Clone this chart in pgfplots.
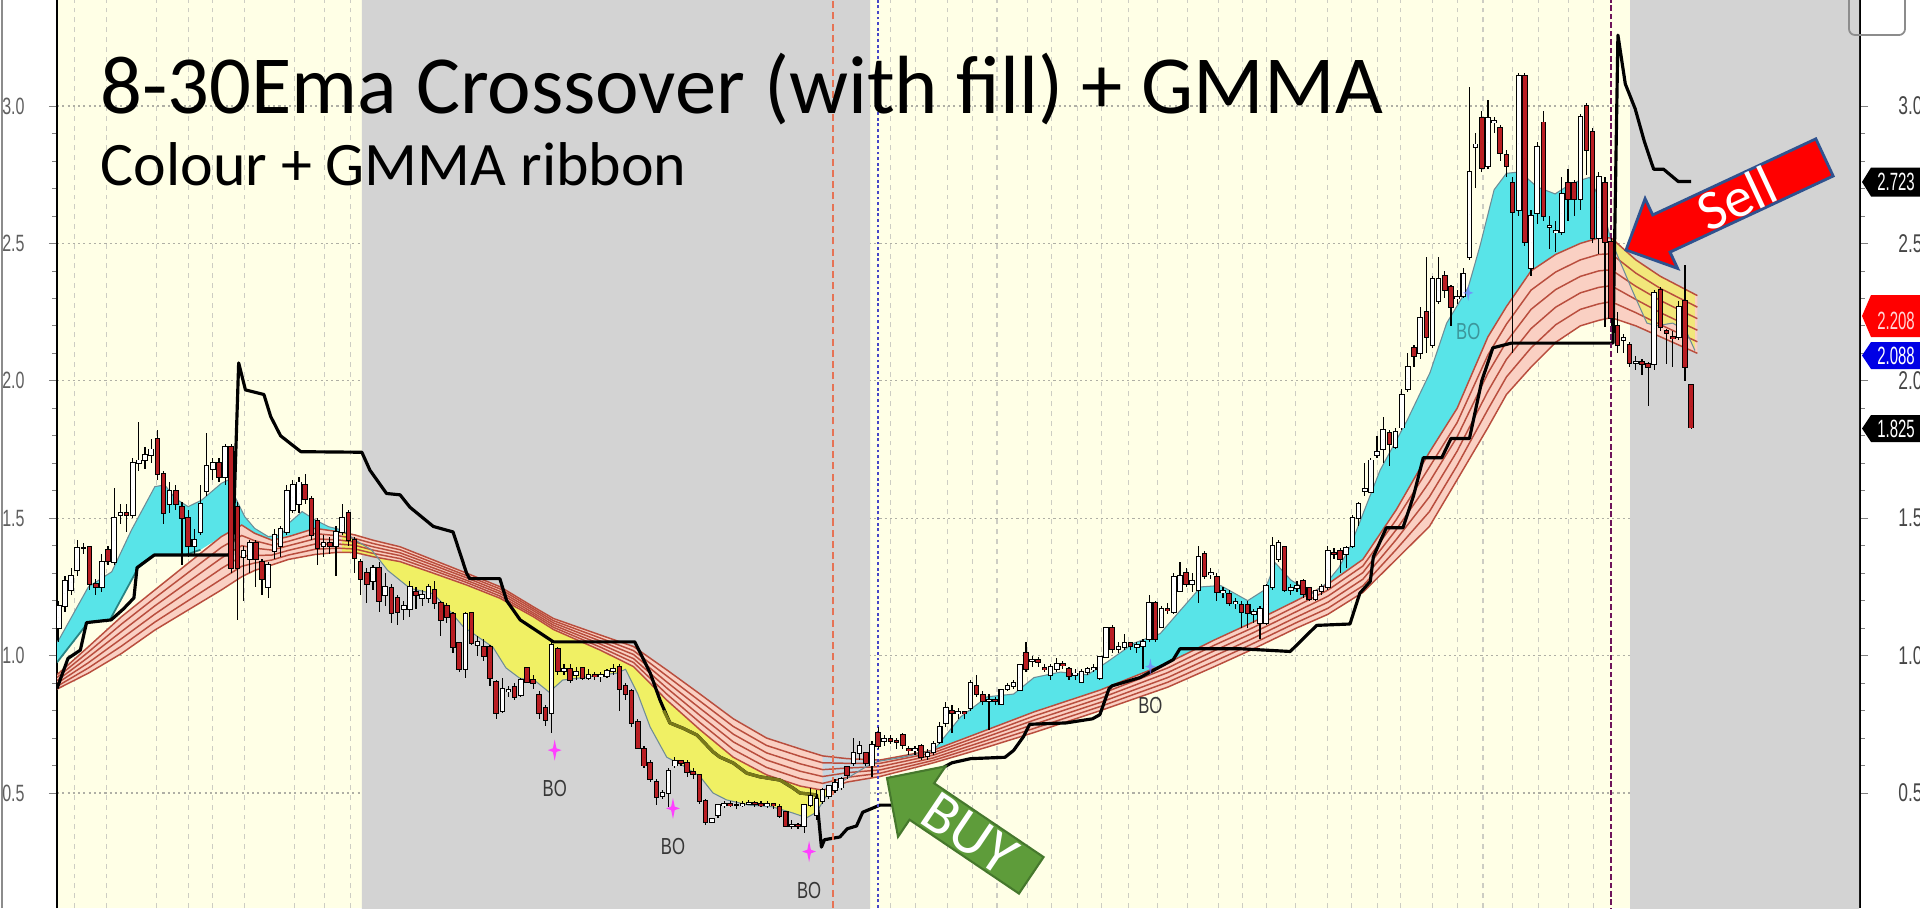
\documentclass[border=0pt]{standalone}
\usepackage{pgfplots}
\pgfplotsset{compat=1.18}
\usepackage{pgfplotstable}
\usepackage{fontspec}
\setmainfont{Carlito}
\newfontfamily\arialf{Liberation Sans}
\definecolor{cream}{RGB}{255,255,230}
\definecolor{bggray}{RGB}{211,211,211}
\definecolor{cyanf}{RGB}{88,228,232}
\definecolor{yelf}{RGB}{240,240,100}
\definecolor{ribline}{RGB}{185,78,62}
\definecolor{ribfill}{RGB}{250,208,195}
\definecolor{candred}{RGB}{185,30,35}
\definecolor{olivel}{RGB}{120,120,25}
\definecolor{magstar}{RGB}{255,64,255}
\definecolor{buygreen}{RGB}{94,156,58}
\definecolor{buyedge}{RGB}{70,120,45}
\definecolor{sellblue}{RGB}{47,82,143}
\definecolor{tickgray}{RGB}{95,95,95}
\definecolor{bogray}{RGB}{55,55,55}
\definecolor{tealline}{RGB}{40,130,130}
\definecolor{e8line}{RGB}{110,140,150}

\pgfdeclareplotmark{fourstar}{%
  \pgfpathmoveto{\pgfqpoint{0pt}{\pgfplotmarksize}}%
  \pgfpathlineto{\pgfqpoint{0.17\pgfplotmarksize}{0.17\pgfplotmarksize}}%
  \pgfpathlineto{\pgfqpoint{0.65\pgfplotmarksize}{0pt}}%
  \pgfpathlineto{\pgfqpoint{0.17\pgfplotmarksize}{-0.17\pgfplotmarksize}}%
  \pgfpathlineto{\pgfqpoint{0pt}{-\pgfplotmarksize}}%
  \pgfpathlineto{\pgfqpoint{-0.17\pgfplotmarksize}{-0.17\pgfplotmarksize}}%
  \pgfpathlineto{\pgfqpoint{-0.65\pgfplotmarksize}{0pt}}%
  \pgfpathlineto{\pgfqpoint{-0.17\pgfplotmarksize}{0.17\pgfplotmarksize}}%
  \pgfpathclose\pgfusepathqfill}

\pgfplotstableread{
i o h l c
0 1.10 1.20 1.05 1.18
1 1.18 1.29 1.16 1.27
2 1.24 1.32 1.22 1.29
3 1.31 1.42 1.29 1.39
4 1.39 1.41 1.37 1.39
5 1.395 1.40 1.24 1.26
6 1.26 1.28 1.22 1.25
7 1.25 1.37 1.23 1.34
8 1.385 1.40 1.33 1.345
9 1.34 1.61 1.33 1.50
10 1.51 1.55 1.48 1.52
11 1.52 1.55 1.45 1.51
12 1.51 1.72 1.50 1.70
13 1.70 1.85 1.67 1.71
14 1.71 1.76 1.68 1.73
15 1.73 1.79 1.70 1.75
16 1.79 1.82 1.64 1.66
17 1.66 1.67 1.48 1.52
18 1.55 1.63 1.52 1.60
19 1.60 1.62 1.53 1.55
20 1.54 1.56 1.33 1.50
21 1.50 1.53 1.36 1.40
22 1.40 1.46 1.37 1.42
23 1.45 1.62 1.44 1.55
24 1.60 1.81 1.58 1.69
25 1.68 1.72 1.64 1.70
26 1.70 1.72 1.63 1.65
27 1.65 1.77 1.62 1.76
28 1.76 1.77 1.30 1.32
29 1.54 1.56 1.13 1.32
30 1.36 1.40 1.20 1.38
31 1.35 1.42 1.30 1.41
32 1.41 1.42 1.25 1.35
33 1.34 1.35 1.22 1.28
34 1.25 1.34 1.21 1.33
35 1.38 1.46 1.35 1.44
36 1.40 1.47 1.36 1.46
37 1.45 1.62 1.44 1.60
38 1.53 1.64 1.52 1.62
39 1.55 1.65 1.52 1.63
40 1.62 1.66 1.55 1.57
41 1.57 1.58 1.42 1.44
42 1.49 1.50 1.33 1.39
43 1.40 1.44 1.36 1.41
44 1.41 1.43 1.37 1.40
45 1.40 1.47 1.29 1.45
46 1.45 1.55 1.44 1.50
47 1.52 1.53 1.40 1.42
48 1.42 1.43 1.30 1.355
49 1.34 1.35 1.22 1.28
50 1.30 1.32 1.19 1.26
51 1.27 1.33 1.24 1.32
52 1.32 1.34 1.16 1.20
53 1.22 1.30 1.18 1.25
54 1.245 1.26 1.12 1.155
55 1.21 1.22 1.11 1.16
56 1.17 1.20 1.13 1.18
57 1.17 1.27 1.14 1.25
58 1.23 1.25 1.17 1.22
59 1.21 1.24 1.18 1.22
60 1.21 1.26 1.19 1.25
61 1.24 1.27 1.17 1.19
62 1.19 1.20 1.07 1.13
63 1.18 1.19 1.12 1.14
64 1.15 1.16 1.01 1.03
65 1.045 1.05 0.94 0.95
66 0.95 1.16 0.92 1.15
67 1.155 1.16 1.04 1.045
68 1.04 1.07 1.00 1.05
69 1.03 1.06 0.98 1.00
70 1.03 1.04 0.89 0.92
71 0.905 0.91 0.77 0.79
72 0.80 0.92 0.79 0.88
73 0.87 0.89 0.85 0.875
74 0.885 0.90 0.84 0.85
75 0.855 0.92 0.85 0.91
76 0.955 0.96 0.90 0.905
77 0.91 0.93 0.88 0.90
78 0.855 0.87 0.77 0.79
79 0.81 0.82 0.745 0.765
80 0.79 1.05 0.72 1.04
81 1.025 1.03 0.93 0.945
82 0.945 0.97 0.93 0.95
83 0.95 0.97 0.90 0.91
84 0.93 0.96 0.91 0.94
85 0.955 0.96 0.91 0.92
86 0.92 0.95 0.91 0.93
87 0.93 0.94 0.91 0.925
88 0.925 0.94 0.905 0.93
89 0.925 0.95 0.92 0.945
90 0.945 0.97 0.93 0.95
91 0.96 0.97 0.80 0.88
92 0.89 0.90 0.84 0.86
93 0.87 0.88 0.74 0.755
94 0.76 0.77 0.66 0.665
95 0.66 0.67 0.59 0.60
96 0.61 0.62 0.54 0.55
97 0.54 0.55 0.455 0.485
98 0.49 0.51 0.48 0.50
99 0.50 0.59 0.45 0.58
100 0.60 0.63 0.59 0.615
101 0.615 0.62 0.60 0.61
102 0.61 0.62 0.56 0.575
103 0.575 0.59 0.55 0.57
104 0.565 0.57 0.46 0.47
105 0.47 0.48 0.385 0.395
106 0.395 0.41 0.39 0.405
107 0.42 0.46 0.41 0.455
108 0.455 0.47 0.445 0.46
109 0.46 0.47 0.45 0.455
110 0.455 0.47 0.44 0.455
111 0.455 0.47 0.45 0.46
112 0.46 0.475 0.455 0.465
113 0.465 0.47 0.45 0.46
114 0.46 0.47 0.45 0.455
115 0.455 0.47 0.445 0.46
116 0.46 0.465 0.44 0.455
117 0.45 0.46 0.41 0.415
118 0.43 0.435 0.375 0.38
119 0.38 0.40 0.37 0.385
120 0.385 0.39 0.37 0.38
121 0.38 0.46 0.355 0.455
122 0.455 0.52 0.45 0.49
123 0.42 0.51 0.40 0.48
124 0.47 0.52 0.46 0.51
125 0.49 0.53 0.48 0.525
126 0.51 0.55 0.50 0.535
127 0.52 0.56 0.51 0.55
128 0.595 0.60 0.55 0.565
129 0.61 0.70 0.60 0.645
130 0.645 0.69 0.62 0.67
131 0.645 0.65 0.60 0.61
132 0.60 0.69 0.56 0.675
133 0.72 0.74 0.66 0.67
134 0.69 0.71 0.67 0.695
135 0.695 0.71 0.68 0.69
136 0.69 0.70 0.66 0.685
137 0.71 0.72 0.66 0.675
138 0.66 0.67 0.64 0.655
139 0.655 0.67 0.64 0.66
140 0.67 0.68 0.62 0.63
141 0.635 0.66 0.62 0.645
142 0.65 0.69 0.64 0.68
143 0.685 0.76 0.68 0.74
144 0.755 0.83 0.74 0.81
145 0.80 0.82 0.72 0.79
146 0.79 0.81 0.77 0.795
147 0.795 0.80 0.77 0.79
148 0.81 0.91 0.80 0.90
149 0.89 0.93 0.85 0.86
150 0.855 0.87 0.82 0.835
151 0.835 0.86 0.73 0.84
152 0.84 0.85 0.82 0.835
153 0.825 0.88 0.82 0.875
154 0.88 0.90 0.87 0.89
155 0.89 0.91 0.88 0.90
156 0.875 0.97 0.87 0.965
157 1.01 1.05 0.94 0.95
158 0.98 1.00 0.96 0.985
159 0.985 0.995 0.96 0.975
160 0.955 0.97 0.94 0.95
161 0.93 0.97 0.91 0.96
162 0.95 0.99 0.94 0.97
163 0.97 0.98 0.95 0.965
164 0.95 0.96 0.91 0.925
165 0.93 0.95 0.91 0.935
166 0.905 0.95 0.90 0.94
167 0.94 0.96 0.93 0.95
168 0.95 0.97 0.94 0.955
169 0.92 1.00 0.91 0.995
170 0.995 1.105 0.99 1.10
171 1.10 1.11 1.01 1.025
172 1.025 1.05 1.01 1.03
173 1.03 1.08 1.02 1.045
174 1.045 1.05 1.02 1.035
175 1.03 1.05 1.01 1.04
176 1.035 1.06 0.95 1.05
177 1.06 1.22 1.05 1.19
178 1.19 1.20 1.05 1.06
179 1.105 1.18 1.10 1.17
180 1.17 1.19 1.15 1.165
181 1.16 1.30 1.15 1.285
182 1.235 1.34 1.23 1.29
183 1.30 1.32 1.25 1.26
184 1.26 1.30 1.23 1.27
185 1.24 1.40 1.19 1.36
186 1.37 1.38 1.28 1.29
187 1.295 1.32 1.28 1.30
188 1.285 1.30 1.20 1.23
189 1.23 1.25 1.21 1.235
190 1.225 1.24 1.18 1.19
191 1.19 1.21 1.17 1.195
192 1.185 1.20 1.10 1.16
193 1.185 1.20 1.10 1.155
194 1.15 1.17 1.12 1.158
195 1.12 1.18 1.06 1.17
196 1.12 1.26 1.11 1.255
197 1.25 1.43 1.24 1.40
198 1.35 1.42 1.34 1.41
199 1.395 1.40 1.23 1.24
200 1.24 1.26 1.22 1.245
201 1.245 1.27 1.23 1.255
202 1.27 1.28 1.21 1.225
203 1.245 1.25 1.20 1.205
204 1.205 1.24 1.20 1.235
205 1.235 1.26 1.22 1.25
206 1.25 1.40 1.24 1.38
207 1.375 1.39 1.35 1.37
208 1.38 1.39 1.30 1.35
209 1.37 1.40 1.32 1.39
210 1.40 1.51 1.39 1.50
211 1.50 1.56 1.47 1.55
212 1.60 1.70 1.58 1.605
213 1.595 1.72 1.59 1.71
214 1.73 1.80 1.72 1.74
215 1.75 1.87 1.70 1.82
216 1.81 1.82 1.69 1.77
217 1.76 1.83 1.75 1.815
218 1.83 1.97 1.82 1.95
219 1.97 2.10 1.96 2.05
220 2.12 2.13 2.05 2.09
221 2.10 2.27 2.08 2.23
222 2.25 2.45 2.10 2.16
223 2.13 2.38 2.12 2.37
224 2.29 2.45 2.28 2.37
225 2.38 2.40 2.30 2.33
226 2.34 2.35 2.20 2.27
227 2.30 2.33 2.28 2.305
228 2.31 2.41 2.30 2.39
229 2.45 3.07 2.44 2.76
230 2.85 2.90 2.70 2.86
231 2.955 2.98 2.76 2.775
232 2.78 3.02 2.77 2.955
233 2.94 2.96 2.90 2.945
234 2.92 2.93 2.80 2.83
235 2.82 2.84 2.74 2.78
236 2.72 2.74 2.10 2.615
237 2.62 3.12 2.60 3.11
238 3.11 3.12 2.49 2.505
239 2.41 2.62 2.38 2.60
240 2.61 2.87 2.57 2.85
241 2.94 2.98 2.58 2.60
242 2.56 2.60 2.48 2.565
243 2.54 2.58 2.47 2.545
244 2.54 2.74 2.53 2.68
245 2.72 2.77 2.58 2.66
246 2.72 2.73 2.60 2.66
247 2.66 2.97 2.62 2.96
248 3.00 3.01 2.75 2.84
249 2.905 2.92 2.50 2.52
250 2.52 2.76 2.46 2.74
251 2.72 2.74 2.195 2.505
252 2.505 2.52 2.20 2.23
253 2.20 2.25 2.10 2.13
254 2.15 2.17 2.10 2.155
255 2.13 2.14 2.05 2.065
256 2.065 2.09 2.04 2.07
257 2.07 2.08 2.02 2.06
258 2.06 2.07 1.91 2.05
259 2.06 2.33 2.04 2.32
260 2.33 2.34 2.18 2.195
261 2.18 2.19 2.06 2.175
262 2.16 2.18 2.05 2.155
263 2.16 2.29 2.15 2.27
264 2.29 2.42 2.00 2.05
265 1.985 1.99 1.825 1.83
}\candles

\pgfplotstableread{
i v
-0.3 1.05
0 1.057
4.8 1.25
8.6 1.305
11.8 1.457
15.6 1.615
17.2 1.621
18.9 1.572
21 1.542
23.2 1.566
26.4 1.627
27.5 1.639
28.6 1.578
30.2 1.505
31.8 1.463
34 1.433
36.2 1.44
37.3 1.481
39.5 1.524
41.6 1.494
43.8 1.469
46 1.457
48.1 1.421
50.8 1.384
53.4 1.31
57 1.245
60.8 1.225
63 1.175
65.7 1.104
67.3 1.08
70.5 1.03
72.6 0.955
74.8 0.918
77.5 0.905
79.6 0.867
81.8 0.911
85 0.92
90.5 0.936
92 0.95
94 0.86
96 0.74
98.7 0.63
101.3 0.60
104.1 0.56
106.2 0.50
108.4 0.475
112 0.456
115.8 0.45
119.2 0.427
121.4 0.41
123 0.43
124.6 0.49
126.7 0.536
131 0.595
133 0.615
137 0.63
142 0.655
146.4 0.777
150.7 0.85
155 0.86
158.3 0.92
162.6 0.94
167 0.93
170.2 0.977
174.5 1.045
178.8 1.08
181 1.137
185.4 1.25
188.6 1.255
193 1.20
195.8 1.24
197.5 1.337
200 1.275
203.5 1.227
205.6 1.26
207.8 1.32
209.6 1.395
214.5 1.675
218.9 1.857
222.6 2.03
225.3 2.21
228.8 2.34
230.7 2.49
233 2.695
235 2.755
237.2 2.76
240 2.705
242.9 2.68
245 2.71
247 2.73
248.5 2.74
250.4 2.647
252 2.51
255.6 2.32
257.8 2.21
259.4 2.20
262 2.21
264.2 2.18
265.6 2.11
}\eeight

\pgfplotstableread{
i v
-0.3 0.975
4.8 1.122
8.3 1.13
12.9 1.32
15.6 1.366
20.5 1.366
23 1.385
}\cbtab

\pgfplotstableread{
i v
-0.3 0.88
1.5 0.99
3.5 1.02
4.5 1.12
8.5 1.13
10.5 1.17
12.2 1.21
12.7 1.32
15.5 1.366
28.2 1.366
29.2 2.065
30.3 1.967
33.3 1.95
34.4 1.87
36 1.80
37.7 1.77
39.3 1.742
49.2 1.74
50.5 1.675
53.2 1.59
55.4 1.585
57 1.54
60.8 1.47
64 1.45
66.2 1.30
66.7 1.28
71.6 1.28
72.7 1.20
74.9 1.13
80.3 1.05
93.5 1.05
96 0.937
97.6 0.838
99.2 0.755
101.3 0.736
103.6 0.711
106.2 0.65
107.3 0.631
109.5 0.609
111.7 0.572
113.8 0.559
117.1 0.547
119.2 0.518
120.3 0.50
123 0.493
123.8 0.303
124.3 0.33
126.8 0.34
128 0.37
129.5 0.38
130.5 0.43
133.3 0.456
135.5 0.456
137 0.50
139 0.53
141 0.55
143.9 0.597
145 0.61
148 0.625
153.6 0.63
155 0.655
156.6 0.705
157.6 0.75
163.5 0.755
167.8 0.77
169 0.785
170.5 0.88
171 0.89
175.5 0.92
180.9 0.985
182 1.025
191.7 1.025
199.9 1.015
204.2 1.11
209.6 1.115
211.2 1.227
212.9 1.27
213.4 1.36
215.5 1.465
218.2 1.465
219.9 1.58
221.5 1.72
224.5 1.72
226 1.79
229 1.79
231 2.0
232.8 2.12
235.8 2.137
252.3 2.137
253.1 3.258
254.3 3.08
255.9 2.99
257.4 2.87
258.9 2.77
260.5 2.77
262.9 2.725
265 2.725
}\blk

\pgfplotstableread{
i v
98.2 0.80
99.2 0.755
101.3 0.736
103.6 0.711
106.2 0.65
107.3 0.631
109.5 0.609
111.7 0.572
113.8 0.559
117.1 0.547
119.2 0.518
120.3 0.50
123 0.493
}\olv

\pgfplotstableread{
i r1 r2 r3 r4 r5 r6
-0.3 0.930 0.920 0.909 0.899 0.888 0.878
4.8 1.032 1.013 0.994 0.974 0.955 0.936
10.2 1.142 1.115 1.088 1.062 1.035 1.008
15.6 1.239 1.210 1.181 1.151 1.122 1.093
21 1.336 1.302 1.268 1.234 1.200 1.166
26.4 1.433 1.394 1.355 1.317 1.278 1.239
29.7 1.475 1.437 1.400 1.362 1.325 1.287
31.8 1.445 1.418 1.391 1.364 1.337 1.310
34.6 1.420 1.402 1.384 1.366 1.348 1.330
37.3 1.433 1.416 1.400 1.383 1.366 1.350
41.6 1.463 1.444 1.425 1.406 1.387 1.368
45.4 1.451 1.436 1.421 1.406 1.391 1.376
48.1 1.439 1.426 1.413 1.401 1.388 1.375
51 1.420 1.408 1.396 1.384 1.372 1.360
55.4 1.396 1.385 1.374 1.364 1.353 1.342
60.8 1.348 1.338 1.329 1.319 1.310 1.300
66.2 1.300 1.291 1.283 1.274 1.266 1.257
71.6 1.251 1.243 1.234 1.226 1.217 1.209
77 1.178 1.171 1.164 1.156 1.149 1.142
80.3 1.135 1.127 1.119 1.111 1.103 1.095
87.9 1.075 1.064 1.053 1.042 1.031 1.020
93.3 1.033 1.018 1.004 0.989 0.975 0.960
98.7 0.948 0.926 0.904 0.882 0.860 0.838
104.1 0.860 0.834 0.808 0.782 0.756 0.730
109.5 0.770 0.742 0.714 0.686 0.658 0.630
114.9 0.700 0.673 0.646 0.620 0.593 0.566
120.4 0.660 0.633 0.606 0.579 0.552 0.525
124 0.635 0.610 0.585 0.560 0.535 0.510
128 0.625 0.608 0.591 0.574 0.557 0.540
133.3 0.620 0.608 0.596 0.584 0.572 0.560
142 0.656 0.647 0.638 0.628 0.619 0.610
150.7 0.730 0.717 0.705 0.692 0.680 0.667
158.3 0.795 0.780 0.765 0.750 0.735 0.720
169.1 0.875 0.860 0.845 0.830 0.815 0.800
180 0.973 0.955 0.938 0.920 0.903 0.885
187.6 1.057 1.038 1.018 0.999 0.979 0.960
193.5 1.118 1.098 1.079 1.059 1.040 1.020
200.9 1.200 1.180 1.160 1.140 1.120 1.100
206 1.260 1.238 1.216 1.194 1.172 1.150
211.7 1.350 1.326 1.302 1.278 1.254 1.230
217.1 1.530 1.494 1.458 1.422 1.386 1.350
222.5 1.740 1.686 1.632 1.578 1.524 1.470
227 1.900 1.848 1.796 1.744 1.692 1.640
232 2.160 2.094 2.028 1.962 1.896 1.830
235 2.270 2.206 2.142 2.078 2.014 1.950
239 2.400 2.330 2.260 2.190 2.120 2.050
243 2.460 2.396 2.332 2.268 2.204 2.140
247 2.500 2.440 2.380 2.320 2.260 2.200
250 2.520 2.460 2.400 2.340 2.280 2.220
252 2.520 2.462 2.404 2.346 2.288 2.230
256 2.440 2.392 2.344 2.296 2.248 2.200
260 2.380 2.336 2.292 2.248 2.204 2.160
266 2.310 2.268 2.226 2.184 2.142 2.100
}\ribbon

\newcommand\tickfontL{\arialf\fontsize{6.7pt}{7pt}\selectfont}
\newcommand\tickfontR{\arialf\fontsize{7.3pt}{8pt}\selectfont}
\newcommand\bofont{\arialf\fontsize{6.6pt}{7pt}\selectfont}
\newcommand\tagfont{\arialf\fontsize{7.1pt}{8pt}\selectfont}

\pgfplotsset{candle/.style={only marks, mark size=0pt, mark options={draw=none, fill=none}}}

\begin{document}
\begin{tikzpicture}[x=1cm,y=1cm]
\draw[black!45, line width=0.6pt] (0.02,0) -- (0.02,9.08);
\begin{axis}[
  at={(0.57cm,0cm)}, anchor=south west,
  width=18.03cm, height=9.08cm, scale only axis,
  xmin=-0.29, xmax=292.4, ymin=0.0815, ymax=3.3857,
  separate axis lines,
  x axis line style={draw=none},
  y axis line style={black, line width=0.45pt},
  axis background/.style={fill=cream},
  xtick={2.6,7.8,15.9,21.1,25,30.2,38.3,43.2,47.3,135,139,144.2,148.4,152.3,157.3,161.2,165.3,169.3,173.6,178.4,183.3,188.2,192.2,196.1,200.7,205.9,209.9,214,217.8,223,227.1,231.2,236,240.2,245,249.1},
  xticklabels={},
  major x tick style={draw=none},
  xmajorgrids,
  major x grid style={draw={rgb,255:red,205;green,205;blue,195}, dash pattern=on 1.4pt off 1.4pt, line width=0.3pt},
  ytick={0.5,1,1.5,2,2.5,3},
  minor y tick num=4,
  ymajorgrids,
  major y grid style={draw={rgb,255:red,175;green,175;blue,165}, dash pattern=on 0.6pt off 0.9pt, line width=0.35pt},
  ytick pos=both, yticklabel pos=left,
  tick align=outside,
  major tick length=0.08cm, minor tick length=0.045cm,
  /pgf/number format/assume math mode=true,
  yticklabel={\scalebox{0.68}[1]{\pgfmathprintnumber[fixed,fixed zerofill,precision=1]{\tick}}},
  yticklabel style={font=\tickfontL, text=tickgray, xshift=-0.12cm},
]
% gray background zones
\addplot[fill=bggray, draw=none] coordinates {(49.2,0) (131.7,0) (131.7,3.5) (49.2,3.5) (49.2,0)};
\addplot[fill=bggray, draw=none] coordinates {(255.07,0) (292.25,0) (292.25,3.5) (255.07,3.5) (255.07,0)};

% GMMA ribbon band (top line forward, bottom line back)
\addplot[fill=ribfill, draw=none] coordinates {
(-0.3,0.930) (4.8,1.032) (10.2,1.142) (15.6,1.239) (21,1.336) (26.4,1.433) (29.7,1.475) (31.8,1.445) (34.6,1.420) (37.3,1.433) (41.6,1.463) (45.4,1.451) (48.1,1.439) (51,1.420) (55.4,1.396) (60.8,1.348) (66.2,1.300) (71.6,1.251) (77,1.178) (80.3,1.135) (87.9,1.075) (93.3,1.033) (98.7,0.948) (104.1,0.860) (109.5,0.770) (114.9,0.700) (120.4,0.660) (124,0.635) (128,0.625) (133.3,0.620) (142,0.656) (150.7,0.730) (158.3,0.795) (169.1,0.875) (180,0.973) (187.6,1.057) (193.5,1.118) (200.9,1.200) (206,1.260) (211.7,1.350) (217.1,1.530) (222.5,1.740) (227,1.900) (232,2.160) (235,2.270) (239,2.400) (243,2.460) (247,2.500) (250,2.520) (252,2.520) (256,2.440) (260,2.380) (266,2.310)
(266,2.100) (260,2.160) (256,2.200) (252,2.230) (250,2.220) (247,2.200) (243,2.140) (239,2.050) (235,1.950) (232,1.830) (227,1.640) (222.5,1.470) (217.1,1.350) (211.7,1.230) (206,1.150) (200.9,1.100) (193.5,1.020) (187.6,0.960) (180,0.885) (169.1,0.800) (158.3,0.720) (150.7,0.667) (142,0.610) (133.3,0.560) (128,0.540) (124,0.510) (120.4,0.525) (114.9,0.566) (109.5,0.630) (104.1,0.730) (98.7,0.838) (93.3,0.960) (87.9,1.020) (80.3,1.095) (77,1.142) (71.6,1.209) (66.2,1.257) (60.8,1.300) (55.4,1.342) (51,1.360) (48.1,1.375) (45.4,1.376) (41.6,1.368) (37.3,1.350) (34.6,1.330) (31.8,1.310) (29.7,1.287) (26.4,1.239) (21,1.166) (15.6,1.093) (10.2,1.008) (4.8,0.936) (-0.3,0.878)};

% pale fill between fast line and ribbon just before the buy crossover
\addplot[fill={rgb,255:red,200;green,214;blue,224}, draw=none] coordinates {
(124.6,0.49) (126.7,0.536) (131,0.595) (133,0.615) (133,0.62) (128,0.625) (124,0.635) (124,0.51) (124.6,0.505)};

% cyan fill 1 (EMA8 above slow line)
\addplot[fill=cyanf, draw=none] coordinates {
(-0.3,1.05) (0,1.057) (4.8,1.25) (8.6,1.305) (11.8,1.457) (15.6,1.615) (17.2,1.621) (18.9,1.572) (21,1.542) (23.2,1.566) (26.4,1.627) (27.5,1.639) (28.6,1.578) (30.2,1.505) (31.8,1.463) (34,1.433) (36.2,1.44) (37.3,1.481) (39.5,1.524) (41.6,1.494) (43.8,1.469) (46,1.457)
(46,1.449) (45.4,1.451) (41.6,1.463) (37.3,1.433) (34.6,1.42) (31.8,1.445) (29.7,1.475) (26.4,1.433) (23,1.385) (20.5,1.366) (15.6,1.366) (12.9,1.32) (8.3,1.13) (4.8,1.122) (-0.3,0.975)};
% cyan fill 2
\addplot[fill=cyanf, draw=none] coordinates {
(133,0.615) (137,0.63) (142,0.655) (146.4,0.777) (150.7,0.85) (155,0.86) (158.3,0.92) (162.6,0.94) (167,0.93) (170.2,0.977) (174.5,1.045) (178.8,1.08) (181,1.137) (185.4,1.25) (188.6,1.255) (193,1.20) (195.8,1.24) (197.5,1.337) (200,1.275) (203.5,1.227) (205.6,1.26) (207.8,1.32) (209.6,1.395) (214.5,1.675) (218.9,1.857) (222.6,2.03) (225.3,2.21) (228.8,2.34) (230.7,2.49) (233,2.695) (235,2.755) (237.2,2.76) (240,2.705) (242.9,2.68) (245,2.71) (247,2.73) (248.5,2.74) (250.4,2.647) (252,2.51)
(252,2.52) (250,2.52) (247,2.50) (243,2.46) (239,2.40) (235,2.27) (232,2.16) (227,1.90) (222.5,1.74) (217.1,1.53) (211.7,1.35) (206,1.26) (200.9,1.20) (193.5,1.118) (187.6,1.057) (180,0.973) (169.1,0.875) (158.3,0.795) (150.7,0.73) (142,0.656) (133.3,0.62) (133,0.62)};
% yellow fill 1 (EMA8 below slow line)
\addplot[fill=yelf, draw=none] coordinates {
(46,1.457) (48.1,1.421) (50.8,1.384) (53.4,1.31) (57,1.245) (60.8,1.225) (63,1.175) (65.7,1.104) (67.3,1.08) (70.5,1.03) (72.6,0.955) (74.8,0.918) (77.5,0.905) (79.6,0.867) (81.8,0.911) (85,0.92) (90.5,0.936) (92,0.95) (94,0.86) (96,0.74) (98.7,0.63) (101.3,0.60) (104.1,0.56) (106.2,0.50) (108.4,0.475) (112,0.456) (115.8,0.45) (119.2,0.427) (121.4,0.41) (123,0.43) (124.6,0.49) (125.5,0.505)
(125.5,0.52) (124,0.51) (120.4,0.525) (114.9,0.566) (109.5,0.630) (104.1,0.73) (98.7,0.838) (93.3,0.96) (87.9,1.02) (80.3,1.095) (77,1.142) (71.6,1.209) (66.2,1.257) (60.8,1.30) (55.4,1.342) (51,1.36) (48.1,1.375) (46,1.376)};
% yellow fill 2
\addplot[fill=yelf, draw=none, fill opacity=0.75] coordinates {
(252,2.51) (255.6,2.32) (257.8,2.21) (259.4,2.20) (262,2.21) (264.2,2.18) (265.6,2.11) (265.6,2.316) (260,2.38) (256,2.44) (252,2.52)};

% ribbon lines
\addplot[ribline, line width=0.42pt] table[x=i,y=r1]{\ribbon};
\addplot[ribline, line width=0.42pt] table[x=i,y=r2]{\ribbon};
\addplot[ribline, line width=0.42pt] table[x=i,y=r3]{\ribbon};
\addplot[ribline, line width=0.42pt] table[x=i,y=r4]{\ribbon};
\addplot[ribline, line width=0.42pt] table[x=i,y=r5]{\ribbon};
\addplot[ribline, line width=0.42pt] table[x=i,y=r6]{\ribbon};
\addplot[e8line, line width=0.3pt] table[x=i,y=v]{\eeight};
\addplot[tealline, line width=0.5pt] table[x=i,y=v]{\cbtab};

% black step line (olive where it runs under the yellow fill)
\addplot[black, line width=0.9pt, line join=round] table[x=i,y=v]{\blk};
\addplot[olivel, line width=0.9pt, line join=round] table[x=i,y=v]{\olv};

% vertical signal lines
\addplot[draw={rgb,255:red,230;green,115;blue,85}, dash pattern=on 2pt off 1.2pt, line width=0.45pt] coordinates {(125.7,0) (125.7,3.5)};
\addplot[draw={rgb,255:red,70;green,70;blue,200}, dash pattern=on 0.8pt off 0.8pt, line width=0.35pt] coordinates {(133,0) (133,3.5)};
\addplot[draw={rgb,255:red,110;green,20;blue,90}, dash pattern=on 1.6pt off 0.8pt, line width=0.6pt] coordinates {(252,0) (252,3.5)};

% candles: wicks
\addplot[candle, error bars/.cd, y dir=both, y explicit, error mark=none,
  error bar style={draw=black, line width=0.33pt}]
  table[x=i, y expr={0.5*(\thisrow{h}+\thisrow{l})}, y error expr={0.5*(\thisrow{h}-\thisrow{l})}]{\candles};
% body outlines
\addplot[candle, error bars/.cd, y dir=both, y explicit, error mark=none,
  error bar style={draw=black, line width=1.6pt}]
  table[x=i, y expr={0.5*(\thisrow{o}+\thisrow{c})}, y error expr={0.5*abs(\thisrow{o}-\thisrow{c})+0.0035}]{\candles};
% white bodies
\addplot[candle, error bars/.cd, y dir=both, y explicit, error mark=none,
  error bar style={draw=white, line width=1.02pt}]
  table[x=i, y expr={0.5*(\thisrow{o}+\thisrow{c})}, y error expr={(\thisrow{c}>\thisrow{o})*0.5*abs(\thisrow{o}-\thisrow{c})}]{\candles};
% red bodies
\addplot[candle, error bars/.cd, y dir=both, y explicit, error mark=none,
  error bar style={draw=candred, line width=1.02pt}]
  table[x=i, y expr={0.5*(\thisrow{o}+\thisrow{c})}, y error expr={(\thisrow{c}<\thisrow{o})*0.5*abs(\thisrow{o}-\thisrow{c})}]{\candles};

% BO markers
\addplot[only marks, mark=fourstar, mark size=3.0pt, color=magstar] coordinates {(80.5,0.656) (99.7,0.444) (121.8,0.287)};
\addplot[only marks, mark=fourstar, mark size=2.3pt, color={rgb,255:red,120;green,120;blue,255}, opacity=0.7] coordinates {(177.2,0.96) (228.8,2.32)};
\node[font=\bofont, text=bogray] at (axis cs:80.5,0.518) {\scalebox{0.72}[1]{BO}};
\node[font=\bofont, text=bogray] at (axis cs:99.7,0.305) {\scalebox{0.72}[1]{BO}};
\node[font=\bofont, text=bogray] at (axis cs:121.8,0.147) {\scalebox{0.72}[1]{BO}};
\node[font=\bofont, text=bogray] at (axis cs:177.2,0.82) {\scalebox{0.72}[1]{BO}};
\node[font=\bofont, text={rgb,255:red,60;green,150;blue,155}] at (axis cs:228.8,2.18) {\scalebox{0.72}[1]{BO}};
\end{axis}

% right-hand labels
\begin{axis}[
  at={(0.57cm,0cm)}, anchor=south west,
  width=18.03cm, height=9.08cm, scale only axis,
  xmin=-0.29, xmax=292.4, ymin=0.0815, ymax=3.3857,
  axis x line=none, axis y line*=right,
  y axis line style={draw=none},
  ytick={0.5,1,1.5,2,2.5,3},
  major tick length=0.08cm, tick align=outside,
  major y tick style={draw=none},
  /pgf/number format/assume math mode=true,
  yticklabel={\scalebox{0.68}[1]{\pgfmathprintnumber[fixed,fixed zerofill,precision=1]{\tick}}},
  yticklabel style={font=\tickfontR, text={rgb,255:red,70;green,70;blue,70}, xshift=0.18cm},
]
\addplot[draw=none] coordinates {(0,1) (1,1)};
\end{axis}

% price tags on the right
\fill[black] (18.62,7.26) -- (18.71,7.405) -- (19.2,7.405) -- (19.2,7.115) -- (18.71,7.115) -- cycle;
\node[font=\tagfont, text=white] at (18.96,7.26) {\scalebox{0.6}[1]{2.723}};
\fill[red] (18.62,5.92) -- (18.71,6.13) -- (19.2,6.13) -- (19.2,5.71) -- (18.71,5.71) -- cycle;
\node[font=\tagfont, text={rgb,255:red,255;green,215;blue,215}] at (18.96,5.87) {\scalebox{0.6}[1]{2.208}};
\fill[blue!90!black] (18.62,5.525) -- (18.71,5.66) -- (19.2,5.66) -- (19.2,5.39) -- (18.71,5.39) -- cycle;
\node[font=\tagfont, text=white] at (18.96,5.525) {\scalebox{0.6}[1]{2.088}};
\fill[black] (18.62,4.795) -- (18.71,4.93) -- (19.2,4.93) -- (19.2,4.66) -- (18.71,4.66) -- cycle;
\node[font=\tagfont, text=white] at (18.96,4.795) {\scalebox{0.6}[1]{1.825}};
\draw[black!45, line width=0.5pt, rounded corners=0.06cm] (18.49,9.2) -- (18.49,8.73) -- (19.05,8.73) -- (19.05,9.2);

% titles
\node[anchor=base west, inner sep=0pt, font=\fontsize{23.5pt}{28pt}\selectfont] at (1.0,7.95) {8-30Ema Crossover (with fill) + GMMA};
\node[anchor=base west, inner sep=0pt, font=\fontsize{17.6pt}{21pt}\selectfont] at (1.0,7.23) {Colour + GMMA ribbon};

% BUY arrow
\begin{scope}[shift={(8.87,1.30)}, rotate=146]
  \filldraw[fill=buygreen, draw=buyedge, line width=0.6pt, line join=miter]
    (0,0) -- (-0.42,0.425) -- (-0.42,0.22) -- (-1.74,0.22) -- (-1.74,-0.22) -- (-0.42,-0.22) -- (-0.42,-0.425) -- cycle;
  \node[rotate=-34, text=white, font=\fontsize{17pt}{20pt}\selectfont, inner sep=0pt] at (-1.0,0) {BUY};
\end{scope}
% Sell arrow
\begin{scope}[shift={(16.26,6.58)}, rotate=205]
  \filldraw[fill=red, draw=sellblue, line width=0.8pt, line join=miter]
    (0,0) -- (-0.39,0.385) -- (-0.39,0.205) -- (-2.19,0.205) -- (-2.19,-0.205) -- (-0.39,-0.205) -- (-0.39,-0.385) -- cycle;
  \node[rotate=25, text=white, font=\fontsize{16pt}{19pt}\selectfont, inner sep=0pt] at (-1.22,0) {Sell};
\end{scope}

\pgfresetboundingbox
\useasboundingbox (0,0) rectangle (19.2,9.08);
\end{tikzpicture}
\end{document}
